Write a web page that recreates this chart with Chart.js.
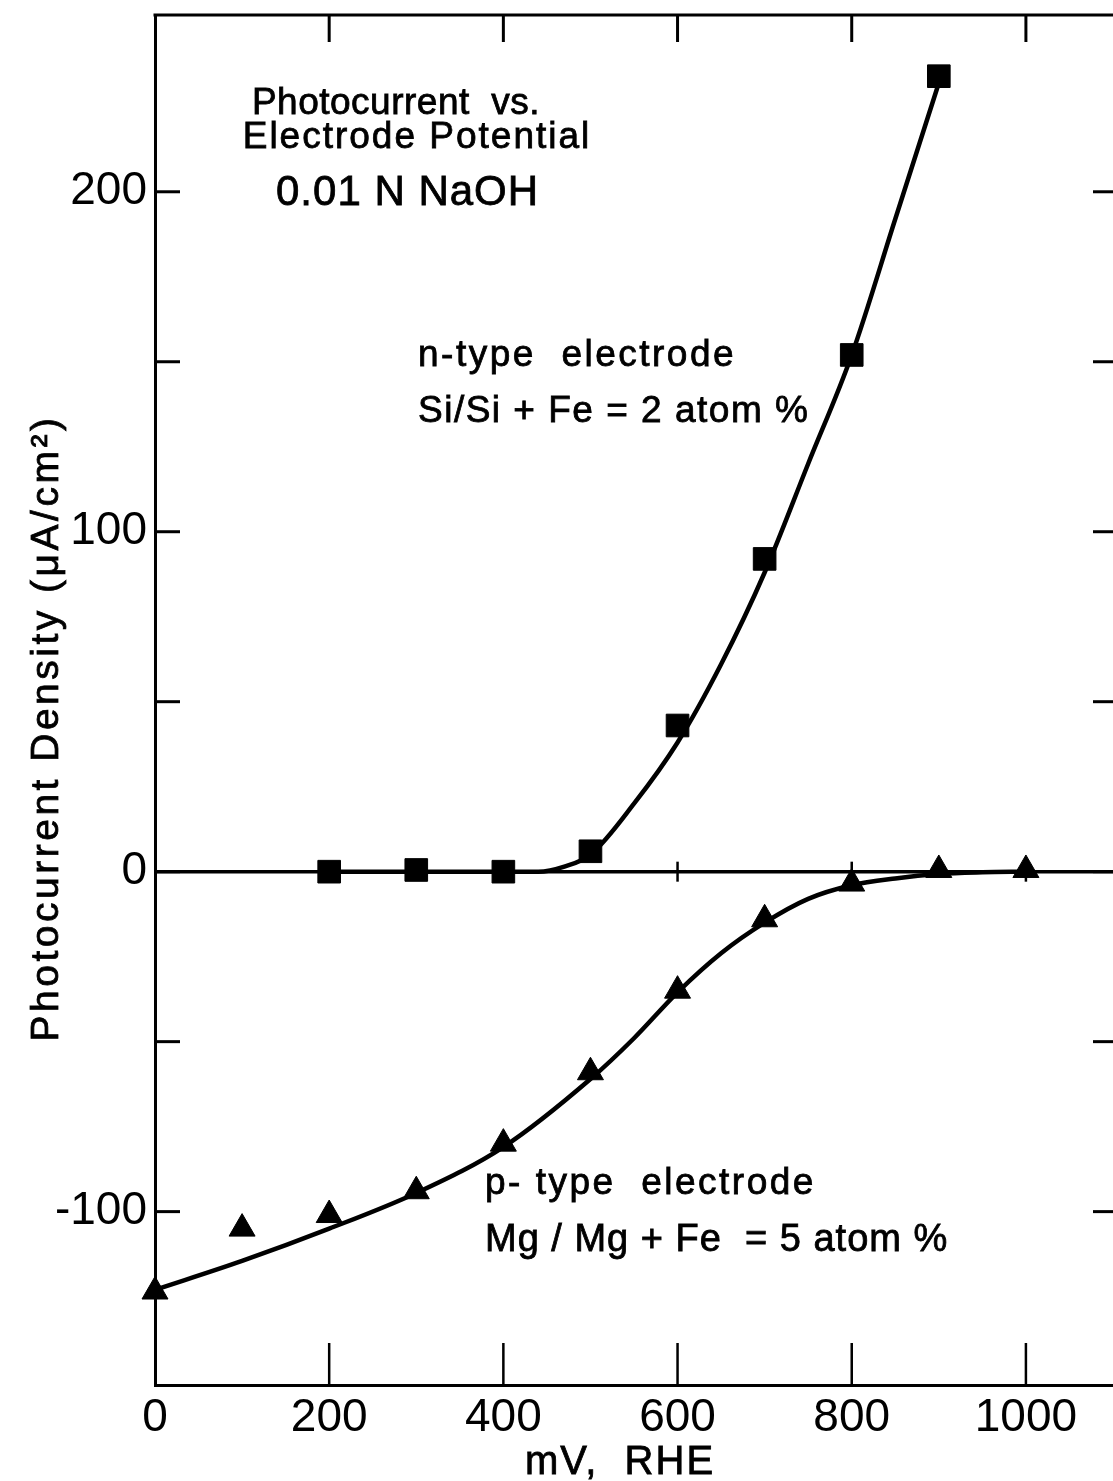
<!DOCTYPE html>
<html>
<head>
<meta charset="utf-8">
<title>Photocurrent vs. Electrode Potential</title>
<script src="https://cdn.jsdelivr.net/npm/chart.js@4/dist/chart.umd.min.js"></script>
<style>
  html, body { margin: 0; padding: 0; background: #fff; overflow: hidden; }
  canvas { display: block; }
</style>
</head>
<body>
<canvas id="grafico" width="1113" height="1481"></canvas>
<script>
// measured points, mV vs RHE -> photocurrent density (uA/cm2)
const nTypeMv = [200, 300, 400, 500, 600, 700, 800, 900];
const nTypeCurrent = [0, 0.5, 0, 6, 43, 92, 152, 234];
const pTypeMv = [0, 100, 200, 300, 400, 500, 600, 700, 800, 900, 1000];
const pTypeCurrent = [-123.5, -105, -101, -94, -80, -59, -35, -14, -3.5, 0.5, 0.5];

// smooth curves drawn through each set
const nCurveMv = [200, 300, 400, 440, 470, 500, 550, 600, 650, 700, 750, 800, 850, 900];
const nCurveCurrent = [0, 0, 0, 0, 1.5, 5, 20, 38, 61, 88, 120, 152, 192, 232];
const pCurveMv = [0, 100, 200, 300, 400, 500, 550, 600, 650, 700, 750, 800, 850, 900, 950, 1000];
const pCurveCurrent = [-123, -114.5, -105, -94.5, -81, -61, -49, -35.5, -24, -15, -8, -4, -2, -0.7, -0.2, 0];

// axis ticks
const xTicks = [0, 200, 400, 600, 800, 1000];
const yTicks = [-100, -50, 0, 50, 100, 150, 200];
const yLabels = [-100, 0, 100, 200];

const FONT = '"Liberation Sans", Arial, sans-serif';
const INK = '#000';

function pontos(xs, ys) {
    return xs.map(function (x, i) { return { x: x, y: ys[i] }; });
}

function texto(ctx, str, x, y, size, spacing, align) {
    ctx.save();
    ctx.font = size + 'px ' + FONT;
    ctx.fillStyle = INK;
    ctx.strokeStyle = INK;
    ctx.lineWidth = 0.8;
    ctx.letterSpacing = (spacing || 0) + 'px';
    ctx.textAlign = align || 'left';
    ctx.textBaseline = 'alphabetic';
    ctx.fillText(str, x, y);
    ctx.strokeText(str, x, y);
    ctx.restore();
}

function linha(ctx, x1, y1, x2, y2, w) {
    ctx.beginPath();
    ctx.lineWidth = w;
    ctx.moveTo(x1, y1);
    ctx.lineTo(x2, y2);
    ctx.stroke();
}

// keep the plot area flush with the fixed axis sizes
function semPadding(scale) {
    scale.paddingTop = 0;
    scale.paddingBottom = 0;
    scale.paddingLeft = 0;
    scale.paddingRight = 0;
}

// frame, inward ticks and the zero line
const moldura = {
    id: 'moldura',
    beforeDatasetsDraw: function (chart) {
        const ctx = chart.ctx;
        const a = chart.chartArea;
        const sx = chart.scales.x;
        const sy = chart.scales.y;
        ctx.save();
        ctx.strokeStyle = INK;
        ctx.lineCap = 'butt';

        linha(ctx, a.left - 1.5, a.top, a.right, a.top, 3);

        const y0 = sy.getPixelForValue(0);
        linha(ctx, a.left, y0, a.right, y0, 3.5);

        xTicks.forEach(function (v) {
            if (v === 0) return;
            const px = sx.getPixelForValue(v);
            linha(ctx, px, a.top, px, a.top + 27, 3);
            linha(ctx, px, a.bottom, px, a.bottom - 42, 2.5);
            linha(ctx, px, y0 - 10, px, y0 + 10, 2.5);
        });

        yTicks.forEach(function (v) {
            const py = sy.getPixelForValue(v);
            linha(ctx, a.left, py, a.left + 25, py, 3);
            linha(ctx, a.right - 20, py, a.right, py, 3);
        });
        ctx.restore();
    },
    afterDraw: function (chart) {
        const ctx = chart.ctx;

        texto(ctx, 'Photocurrent  vs.', 396, 114, 37, 0.5, 'center');
        texto(ctx, 'Electrode Potential', 417, 148, 37, 2, 'center');
        texto(ctx, '0.01 N NaOH', 276, 205, 42, 1, 'left');

        texto(ctx, 'n-type  electrode', 418, 366, 37, 2.5, 'left');
        texto(ctx, 'Si/Si + Fe = 2 atom %', 418, 422, 37, 1.5, 'left');

        texto(ctx, 'p- type  electrode', 485, 1194, 37, 2.5, 'left');
        texto(ctx, 'Mg / Mg + Fe  = 5 atom %', 485, 1251, 38, 1, 'left');

        texto(ctx, 'mV,  RHE', 620, 1474, 40, 2, 'center');

        ctx.save();
        ctx.translate(58, 728);
        ctx.rotate(-Math.PI / 2);
        texto(ctx, 'Photocurrent Density (\u03bcA/cm\u00b2)', 0, 0, 39, 3.5, 'center');
        ctx.restore();
    }
};

new Chart(document.getElementById('grafico'), {
    type: 'scatter',
    data: {
        datasets: [{
            label: 'n-type curve',
            data: pontos(nCurveMv, nCurveCurrent),
            showLine: true,
            cubicInterpolationMode: 'monotone',
            borderColor: INK,
            borderWidth: 4.5,
            pointRadius: 0,
            clip: false
        }, {
            label: 'p-type curve',
            data: pontos(pCurveMv, pCurveCurrent),
            showLine: true,
            cubicInterpolationMode: 'monotone',
            borderColor: INK,
            borderWidth: 4.5,
            pointRadius: 0,
            clip: false
        }, {
            label: 'n-type electrode',
            data: pontos(nTypeMv, nTypeCurrent),
            pointStyle: 'rect',
            pointRadius: 16,
            backgroundColor: INK,
            borderColor: INK,
            borderWidth: 1,
            clip: false
        }, {
            label: 'p-type electrode',
            data: pontos(pTypeMv, pTypeCurrent),
            pointStyle: 'triangle',
            pointRadius: 15,
            backgroundColor: INK,
            borderColor: INK,
            borderWidth: 1,
            clip: false
        }]
    },
    options: {
        responsive: false,
        animation: false,
        devicePixelRatio: 1,
        layout: {
            autoPadding: false,
            padding: { top: 15, right: 0, left: 0, bottom: 0 }
        },
        plugins: {
            legend: { display: false },
            tooltip: { enabled: false }
        },
        scales: {
            x: {
                type: 'linear',
                min: 0,
                max: 1100,
                afterBuildTicks: function (scale) {
                    scale.ticks = xTicks.map(function (v) { return { value: v }; });
                },
                afterFit: function (scale) {
                    scale.height = 96;
                    semPadding(scale);
                },
                ticks: {
                    color: INK,
                    font: { family: FONT, size: 46 },
                    padding: 6,
                    maxRotation: 0,
                    autoSkip: false,
                    callback: function (v) { return String(v); }
                },
                grid: { display: false, drawTicks: false },
                border: { display: true, color: INK, width: 3 }
            },
            y: {
                type: 'linear',
                min: -151,
                max: 252,
                afterBuildTicks: function (scale) {
                    scale.ticks = yLabels.map(function (v) { return { value: v }; });
                },
                afterFit: function (scale) {
                    scale.width = 155;
                    semPadding(scale);
                },
                ticks: {
                    color: INK,
                    font: { family: FONT, size: 46 },
                    padding: 8,
                    autoSkip: false,
                    callback: function (v) { return String(v); }
                },
                grid: { display: false, drawTicks: false },
                border: { display: true, color: INK, width: 3 }
            }
        }
    },
    plugins: [moldura]
});
</script>
</body>
</html>
